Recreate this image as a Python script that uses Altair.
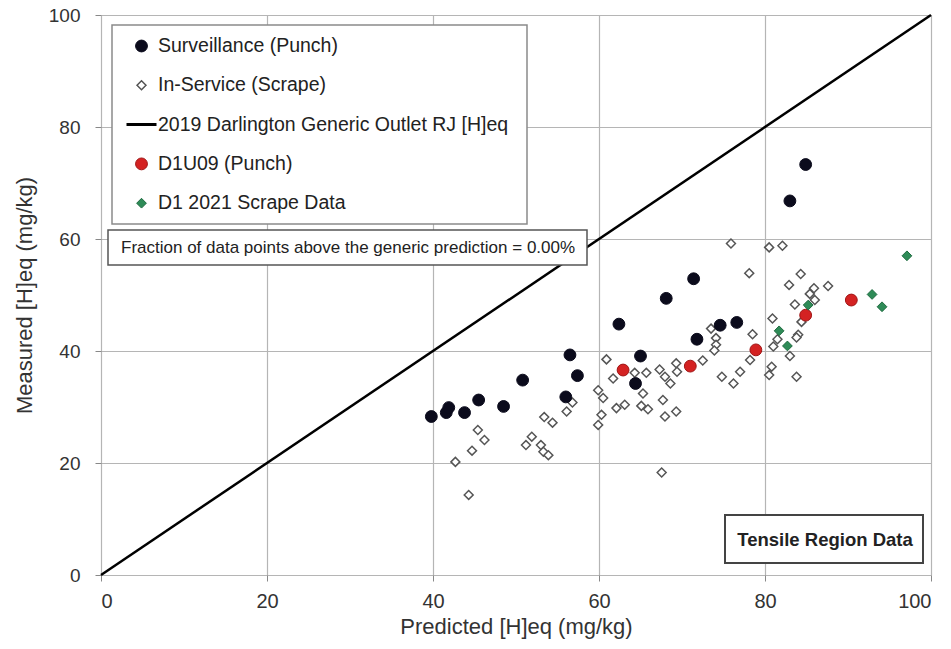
import altair as alt
import pandas as pd

FONT = "Liberation Sans"

series_names = [
    "Surveillance (Punch)",
    "In-Service (Scrape)",
    "2019 Darlington Generic Outlet RJ [H]eq",
    "D1U09 (Punch)",
    "D1 2021 Scrape Data",
]

surv_x = [39.8, 41.6, 41.9, 43.8, 45.5, 48.5, 50.8, 56.5, 57.4, 56.0,
          62.4, 68.1, 71.4, 65.0, 64.4, 71.8, 74.6, 76.6, 84.9, 83.0]
surv_y = [28.3, 29.0, 29.9, 29.0, 31.25, 30.1, 34.8, 39.3, 35.6, 31.8,
          44.8, 49.4, 52.9, 39.1, 34.2, 42.1, 44.6, 45.1, 73.3, 66.8]

scrape_x = [42.7, 44.3, 44.7, 45.4, 46.2, 51.2, 51.9, 53.0, 53.3, 53.9,
            53.4, 54.4, 56.1, 56.8, 59.9, 59.9, 75.9, 78.1, 60.9, 61.7,
            60.5, 60.3, 62.1, 63.1, 64.3, 65.7, 65.3, 65.1, 65.9, 67.3,
            67.95, 68.6, 67.7, 67.95, 69.3, 69.3, 69.4, 67.55, 72.5, 73.5,
            74.1, 74.1, 73.9, 74.8, 76.2, 77.0, 78.2, 78.5, 80.5, 82.1,
            84.3, 82.9, 87.6, 85.9, 85.4, 86.0, 83.6, 80.9, 84.4, 84.0,
            83.8, 81.0, 83.0, 80.8, 80.5, 83.8, 81.5]
scrape_y = [20.2, 14.3, 22.2, 25.9, 24.1, 23.2, 24.7, 23.2, 22.0, 21.4,
            28.2, 27.2, 29.2, 30.8, 33.0, 26.8, 59.2, 53.9, 38.5, 35.1,
            31.6, 28.6, 29.8, 30.4, 36.1, 36.1, 32.4, 30.2, 29.6, 36.7,
            35.4, 34.2, 31.25, 28.3, 29.2, 37.8, 36.3, 18.3, 38.3, 44.0,
            42.3, 41.1, 40.1, 35.4, 34.2, 36.3, 38.4, 43.0, 58.5, 58.8,
            53.75, 51.8, 51.6, 51.2, 50.2, 49.1, 48.3, 45.8, 45.2, 42.9,
            42.4, 40.8, 39.1, 37.2, 35.7, 35.4, 42.1]

d1u09_x = [62.9, 71.0, 78.9, 84.9, 90.4]
d1u09_y = [36.6, 37.3, 40.2, 46.4, 49.1]

d1_2021_x = [97.1, 92.9, 94.1, 85.2, 81.7, 82.7]
d1_2021_y = [57.0, 50.1, 47.9, 48.2, 43.6, 40.9]

line_x = [0, 100]
line_y = [0, 100]

fill_colors = ["#0b0b1c", "#ffffff", "#000000", "#d42222", "#2e8b57"]
stroke_colors = ["#0b0b1c", "#555555", "#000000", "#a01515", "#1f6b40"]
shapes = ["circle", "diamond", "stroke", "circle", "diamond"]
sizes = [140, 80, 900, 140, 95]
stroke_widths = [1, 1.5, 3, 1, 1]

rows = []
for name, xs, ys in [
    (series_names[1], scrape_x, scrape_y),
    (series_names[0], surv_x, surv_y),
    (series_names[3], d1u09_x, d1u09_y),
    (series_names[4], d1_2021_x, d1_2021_y),
]:
    for xv, yv in zip(xs, ys):
        rows.append({"x": xv, "y": yv, "series": name})
pts = pd.DataFrame(rows)
line_df = pd.DataFrame({"x": line_x, "y": line_y})
one = pd.DataFrame({"a": [0]})

xscale = alt.Scale(domain=[0, 100], nice=False)
yscale = alt.Scale(domain=[0, 100], nice=False)

xaxis = alt.Axis(values=[0, 20, 40, 60, 80, 100], title="Predicted [H]eq (mg/kg)",
                 labelFontSize=20, titleFontSize=22, labelFont=FONT, titleFont=FONT,
                 labelColor="#333333", titleColor="#333333", titleFontWeight="normal",
                 tickSize=6, tickColor="#888888", domain=False, labelPadding=10,
                 titlePadding=5, gridColor="#b5b5b5", gridWidth=1.2)
yaxis = alt.Axis(values=[0, 20, 40, 60, 80, 100], title="Measured [H]eq (mg/kg)",
                 labelFontSize=19, titleFontSize=22, labelFont=FONT, titleFont=FONT,
                 labelColor="#333333", titleColor="#333333", titleFontWeight="normal",
                 tickSize=6, tickColor="#888888", domain=False, labelPadding=15,
                 titlePadding=12, gridColor="#b5b5b5", gridWidth=1.2)

base = alt.Chart(line_df).mark_line(color="black", strokeWidth=2.5).encode(
    x=alt.X("x:Q", scale=xscale, axis=xaxis),
    y=alt.Y("y:Q", scale=yscale, axis=yaxis),
)

legend = alt.Legend(orient="none", legendX=24, legendY=20, title=None,
                    labelFontSize=19.5, labelFont=FONT, labelColor="#222222",
                    rowPadding=17.3, clipHeight=22, labelOffset=0, labelLimit=600)

points = alt.Chart(pts).mark_point(opacity=1, filled=False).encode(
    x=alt.X("x:Q", scale=xscale),
    y=alt.Y("y:Q", scale=yscale),
    shape=alt.Shape("series:N", scale=alt.Scale(domain=series_names, range=shapes), legend=legend),
    fill=alt.Fill("series:N", scale=alt.Scale(domain=series_names, range=fill_colors), legend=legend),
    stroke=alt.Stroke("series:N", scale=alt.Scale(domain=series_names, range=stroke_colors), legend=legend),
    size=alt.Size("series:N", scale=alt.Scale(type="ordinal", domain=series_names, range=sizes), legend=legend),
    strokeWidth=alt.StrokeWidth("series:N", scale=alt.Scale(type="ordinal", domain=series_names, range=stroke_widths), legend=legend),
    order=alt.Order("ord:Q"),
).transform_calculate(
    ord="datum.series == 'In-Service (Scrape)' ? 0 : 1"
)

legend_box = alt.Chart(one).mark_rect(fill="white", stroke="#8a8a8a", strokeWidth=1.5).encode(
    x=alt.value(11), x2=alt.value(426), y=alt.value(10), y2=alt.value(209)
)
frac_box = alt.Chart(one).mark_rect(fill="white", stroke="#555555", strokeWidth=1.5).encode(
    x=alt.value(7), x2=alt.value(486), y=alt.value(215), y2=alt.value(250)
)
frac_text = alt.Chart(one).mark_text(align="left", baseline="middle", fontSize=17,
                                     font=FONT, color="#222222").encode(
    x=alt.value(20), y=alt.value(233),
    text=alt.value("Fraction of data points above the generic prediction = 0.00%"),
)
tens_box = alt.Chart(one).mark_rect(fill="white", stroke="#444444", strokeWidth=2).encode(
    x=alt.value(624), x2=alt.value(822), y=alt.value(500), y2=alt.value(548)
)
tens_text = alt.Chart(one).mark_text(align="center", baseline="middle", fontSize=18.5,
                                     fontWeight="bold", font=FONT, color="#222222").encode(
    x=alt.value(724), y=alt.value(525),
    text=alt.value("Tensile Region Data"),
)

chart = alt.layer(base, legend_box, frac_box, frac_text, tens_box, tens_text, points).properties(
    width=830, height=560,
    autosize=alt.AutoSizeParams(type="none"),
    padding={"left": 93, "top": 7, "right": 10, "bottom": 66},
).configure_view(stroke="#111111", strokeWidth=2.5).configure(background="white")

chart.save("out.html", embed_options={"renderer": "svg", "actions": False})
